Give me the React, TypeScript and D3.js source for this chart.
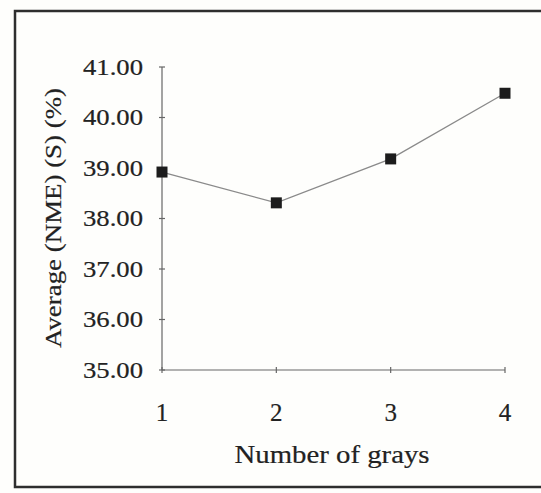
import React from 'react';
import * as d3 from 'd3';

// values
const grays = [1, 2, 3, 4];
const avgNme = [38.92, 38.31, 39.18, 40.48];
const yTicks = [35, 36, 37, 38, 39, 40, 41];

const W = 541;
const H = 493;
const FONT = 'Liberation Serif, Times New Roman, serif';

const App = () => {
  const x = d3.scaleLinear().domain([1, 4]).range([162, 505]);
  const y = d3.scaleLinear().domain([35, 41]).range([370, 67]);

  const line = d3.line<number>()
    .x((_, i) => x(grays[i]))
    .y(d => y(d));

  const x0 = x.range()[0];
  const y0 = y.range()[0];

  // text looks a bit heavy in the scan
  const txt = { fontFamily: FONT, fill: '#222', stroke: '#222', strokeWidth: 0.2 };

  return (
    <svg width={W} height={H} style={{ position: 'absolute', left: 0, top: 0, background: '#fefefc' }}>
      {/* frame */}
      <rect x={15} y={11} width={W + 10} height={476} fill="none" stroke="#2e2e2e" strokeWidth={2.5} />

      {/* y axis */}
      <line x1={x0} x2={x0} y1={y(41)} y2={y0} stroke="#666" strokeWidth={1.2} />
      {yTicks.map(t => (
        <g key={t}>
          <line x1={x0 - 3} x2={x0 + 3} y1={y(t)} y2={y(t)} stroke="#666" strokeWidth={1.2} />
          <text x={143} y={y(t) + 7.5} textAnchor="end" fontSize={23} {...txt}
            textLength={60} lengthAdjust="spacingAndGlyphs">
            {t.toFixed(2)}
          </text>
        </g>
      ))}

      {/* x axis */}
      <line x1={x0} x2={x(4)} y1={y0} y2={y0} stroke="#666" strokeWidth={1.2} />
      {grays.map(g => (
        <g key={g}>
          <line x1={x(g)} x2={x(g)} y1={y0 - 3} y2={y0 + 3} stroke="#666" strokeWidth={1.2} />
          <text x={x(g)} y={421} textAnchor="middle" fontSize={25} {...txt}>
            {g}
          </text>
        </g>
      ))}

      {/* axis titles */}
      <text x={332} y={463} textAnchor="middle" fontSize={25} {...txt}
        textLength={195} lengthAdjust="spacingAndGlyphs">
        Number of grays
      </text>
      <text transform="translate(61,218) rotate(-90)" textAnchor="middle" fontSize={24} {...txt}
        textLength={260} lengthAdjust="spacingAndGlyphs">
        Average (NME) (S) (%)
      </text>

      {/* series */}
      <path d={line(avgNme) || ''} fill="none" stroke="#8a8a8a" strokeWidth={1.3} />
      {avgNme.map((v, i) => (
        <rect key={i} x={x(grays[i]) - 5.5} y={y(v) - 5.5} width={11} height={11} fill="#1c1c1c" />
      ))}
    </svg>
  );
};

export default App;
